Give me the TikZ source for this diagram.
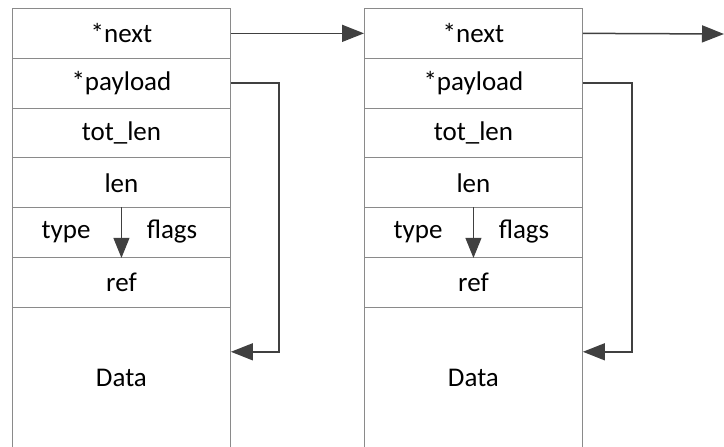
\documentclass[tikz,border=0pt]{standalone}
\usepackage{fontspec}
\setmainfont{Carlito}
\usetikzlibrary{arrows.meta,calc}
\definecolor{boxgray}{HTML}{8A8A8A}
\definecolor{arrowgray}{HTML}{404040}
\begin{document}
\begin{tikzpicture}[x=1pt,y=-1pt,
  cell/.style={draw=boxgray, line width=0.9pt, minimum width=218pt, minimum height=49.8pt,
    inner sep=0pt, anchor=north west, font=\fontsize{27}{32}\selectfont},
  datacell/.style={cell, minimum height=142pt},
  lbl/.style={inner sep=0pt, font=\fontsize{27}{32}\selectfont},
  link/.style={draw=arrowgray, line width=1.5pt, -{Triangle[length=22pt,width=17pt]}},
  inlink/.style={draw=arrowgray, line width=1pt, -{Triangle[length=20pt,width=16pt]}}]
\clip (0,0) rectangle (724,447);
\useasboundingbox (0,0) rectangle (724,447);
% first buffer
\node[cell] (a1) at (12,8) {*next};
\node[cell] (a2) at (12,57.8) {*payload};
\node[cell] (a3) at (12,107.6) {tot\_len};
\node[cell] (a4) at (12,157.4) {len};
\node[cell] (a5) at (12,207.2) {};
\node[cell] (a6) at (12,257) {ref};
\node[datacell] (a7) at (12,306.8) {Data};
\node[lbl] (a5t) at (66,232) {type};
\node[lbl] (a5f) at (172,232) {flags};
% second buffer
\node[cell] (b1) at (364,8) {*next};
\node[cell] (b2) at (364,57.8) {*payload};
\node[cell] (b3) at (364,107.6) {tot\_len};
\node[cell] (b4) at (364,157.4) {len};
\node[cell] (b5) at (364,207.2) {};
\node[cell] (b6) at (364,257) {ref};
\node[datacell] (b7) at (364,306.8) {Data};
\node[lbl] (b5t) at (418,232) {type};
\node[lbl] (b5f) at (524,232) {flags};
% coordinates
\coordinate (nextend) at (724,34);
\coordinate (a7p) at ($(a7.north east)+(0,45)$);
\coordinate (b7p) at ($(b7.north east)+(0,45)$);
% connectors
\draw[link] (a1.east) -- (b1.west);
\draw[link] (b1.east) -- (nextend);
\draw[link] (a2.east) -- ++(48,0) |- (a7p);
\draw[link] (b2.east) -- ++(49,0) |- (b7p);
\draw[inlink] (a5.north) -- (a5.south);
\draw[inlink] (b5.north) -- (b5.south);
\end{tikzpicture}
\end{document}
